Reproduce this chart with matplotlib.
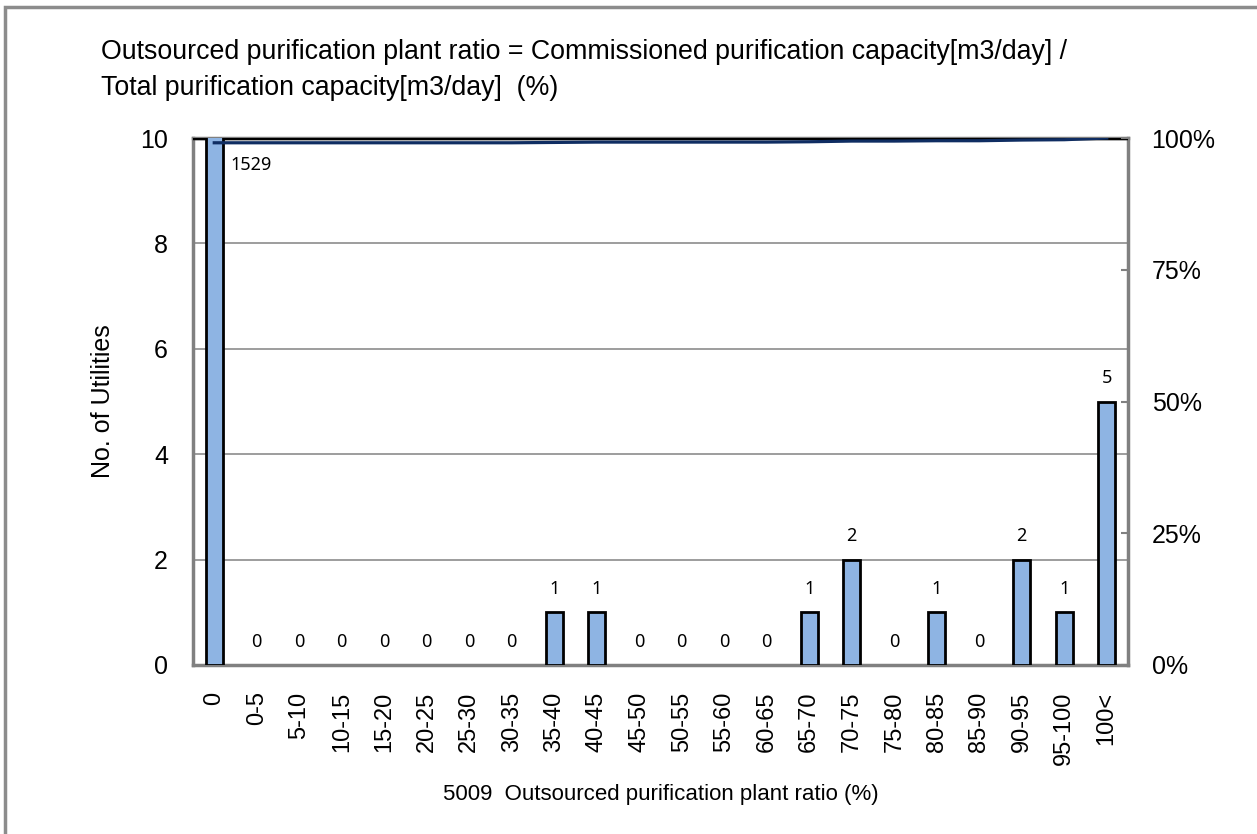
import numpy as np
import matplotlib.pyplot as plt
from matplotlib.patches import Rectangle
from matplotlib.ticker import PercentFormatter

categories = ['0', '0-5', '5-10', '10-15', '15-20', '20-25', '25-30', '30-35',
              '35-40', '40-45', '45-50', '50-55', '55-60', '60-65', '65-70',
              '70-75', '75-80', '80-85', '85-90', '90-95', '95-100', '100<']
counts = [1529, 0, 0, 0, 0, 0, 0, 0, 1, 1, 0, 0, 0, 0, 1, 2, 0, 1, 0, 2, 1, 5]

title = ('Outsourced purification plant ratio = Commissioned purification capacity[m3/day] /\n'
         'Total purification capacity[m3/day]  (%)')
xlabel = '5009  Outsourced purification plant ratio (%)'
ylabel = 'No. of Utilities'

plt.rcParams['font.family'] = ['Liberation Sans', 'DejaVu Sans']

fig = plt.figure(figsize=(12.57, 8.34), dpi=100)
ax = fig.add_axes([193 / 1257, 1 - 665 / 834, 935 / 1257, 527 / 834])

x = np.arange(len(categories))
edge_w = [2 if c > 0 else 0 for c in counts]
ax.bar(x, counts, width=0.4, color='#8EB4E3', edgecolor='black', linewidth=edge_w, zorder=3)
ax.set_xlim(-0.5, len(categories) - 0.5)
ax.set_ylim(0, 10)
ax.set_yticks(range(0, 11, 2))
ax.grid(axis='y', color='#8c8c8c', linewidth=1.2, zorder=0)
ax.axhline(10, color='black', linewidth=2.5, zorder=2.6)
ax.set_xticks(x)
ax.set_xticklabels(categories, rotation=90, fontsize=17)
ax.tick_params(axis='x', length=0, pad=19)
ax.tick_params(axis='y', length=0, pad=18, labelsize=18)
for s in ax.spines.values():
    s.set_color('#808080')
    s.set_linewidth(2.5)

# value labels
for xi, c in zip(x, counts):
    if c > 10:
        ax.text(xi + 0.375, 9.48, str(c), fontsize=13, family='Noto Sans',
                ha='left', va='center', zorder=5)
    else:
        ax.text(xi, c + 0.44, str(c), fontsize=13, family='Noto Sans',
                ha='center', va='center', zorder=5)

ax2 = ax.twinx()
cum = np.cumsum(counts) / np.sum(counts)
ax2.plot(x, cum, color='#0F2D62', linewidth=2.3, zorder=4)
ax2.set_ylim(0, 1)
ax2.set_yticks([0, 0.25, 0.5, 0.75, 1.0])
ax2.yaxis.set_major_formatter(PercentFormatter(1.0, decimals=0))
ax2.tick_params(axis='y', direction='in', length=5, width=1.5, color='#808080',
                pad=17, labelsize=18)
for s in ax2.spines.values():
    s.set_visible(False)

ax.set_ylabel(ylabel, fontsize=18, labelpad=18)
ax.set_xlabel(xlabel, fontsize=16, labelpad=14)
fig.text(101 / 1257, 0.953, title, fontsize=19.3, ha='left', va='top', linespacing=1.5)

# outer chart border
fig.patches.append(Rectangle((5 / 1257, -0.1), 1.2, 1.1 - 7 / 834, transform=fig.transFigure,
                             fill=False, edgecolor='#8c8c8c', linewidth=2.5))

fig.savefig('out.png', dpi=100)
